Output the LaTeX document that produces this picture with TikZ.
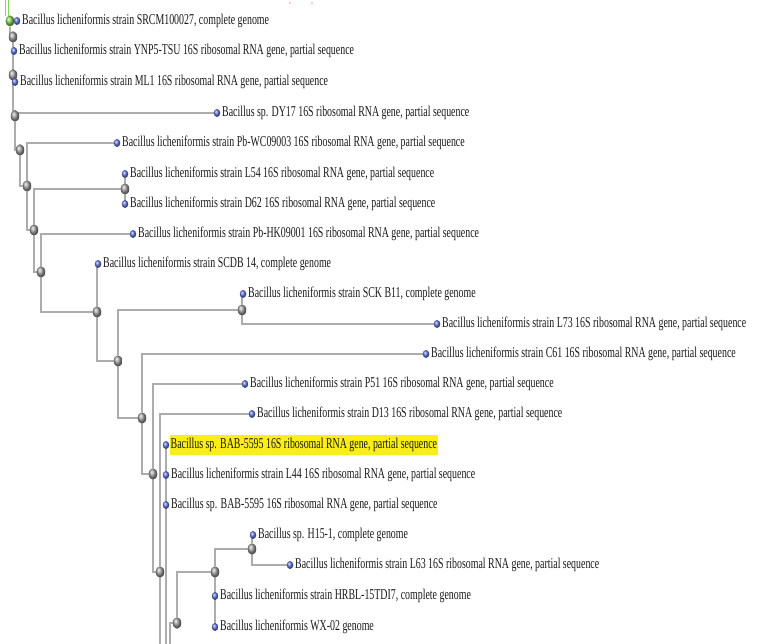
\documentclass[tikz,border=0pt]{standalone}
\usepackage{fontspec}
\usetikzlibrary{arrows, positioning, shapes.geometric, backgrounds}
\newfontfamily\leaffont[FakeStretch=0.66]{Liberation Serif}
\definecolor{branchgray}{RGB}{172,172,172}
\definecolor{hlyellow}{RGB}{250,238,24}
\definecolor{leafblue}{RGB}{95,115,225}
\definecolor{rootgreen}{RGB}{125,205,70}

\tikzset{
  nodeball/.style={ellipse, minimum width=8.5pt, minimum height=11.5pt, inner sep=0pt, shading=ball, ball color=gray!75},
  leafball/.style={ellipse, minimum width=6.5pt, minimum height=8pt, inner sep=0pt, shading=ball, ball color=leafblue},
  rootball/.style={ellipse, minimum width=9pt, minimum height=11pt, inner sep=0pt, shading=ball, ball color=rootgreen},
  leaftext/.style={inner xsep=1.5pt, inner ysep=2pt, font=\leaffont\fontsize{15}{17}\selectfont, text=black!90},
  hilite/.style={leaftext, fill=hlyellow, inner ysep=3.5pt, inner xsep=1pt},
  rootline/.style={draw=rootgreen!90, line width=1pt, double=white, double distance=2.4pt}
}

\begin{document}
\begin{tikzpicture}[x=1pt, y=-1pt,
  every edge/.style={draw=branchgray, line width=1.4pt, to path={|- (\tikztotarget)}}]

  \useasboundingbox (0,0) rectangle (768,644);

  % root and backbone
  \node[rootball] (r) at (10,21) {};
  \node[nodeball] (n1) at (13,37) {};
  \node[nodeball] (n2) at (13,75) {};
  \node[nodeball] (n3) at (15,116) {};
  \node[nodeball] (n4) at (20,150) {};
  \node[nodeball] (n5) at (27,186) {};
  \node[nodeball] (n6) at (34,230) {};
  \node[nodeball] (n7) at (41,272) {};
  \node[nodeball] (n8) at (97,312) {};
  \node[nodeball] (n9) at (118,361) {};
  \node[nodeball] (n10) at (142,418) {};
  \node[nodeball] (n11) at (153,474) {};
  \node[nodeball] (n12) at (160,572) {};
  \node[nodeball] (na) at (125,189) {};
  \node[nodeball] (nb) at (242,310) {};
  \node[nodeball] (nc) at (252,549) {};
  \node[nodeball] (nd) at (215,572) {};
  \node[nodeball] (ne) at (177,623) {};

  \coordinate (rtop) at (7,0);
  \coordinate (rbase) at (7,16);
  \coordinate (b1) at (160,660);
  \coordinate (b2) at (166,660);
  \coordinate (b3) at (170,660);

  % leaves
  \node[leafball] (l1) at (17,21) {};
  \node[leafball] (l2) at (14,51) {};
  \node[leafball] (l3) at (15,82) {};
  \node[leafball] (l4) at (217,113) {};
  \node[leafball] (l5) at (117,143) {};
  \node[leafball] (l6) at (125,174) {};
  \node[leafball] (l7) at (125,204) {};
  \node[leafball] (l8) at (133,234) {};
  \node[leafball] (l9) at (98,264) {};
  \node[leafball] (l10) at (243,294) {};
  \node[leafball] (l11) at (437,324) {};
  \node[leafball] (l12) at (426,354) {};
  \node[leafball] (l13) at (245,384) {};
  \node[leafball] (l14) at (252,414) {};
  \node[leafball] (l15) at (166,445) {};
  \node[leafball] (l16) at (166,475) {};
  \node[leafball] (l17) at (166,505) {};
  \node[leafball] (l18) at (253,535) {};
  \node[leafball] (l19) at (290,565) {};
  \node[leafball] (l20) at (215,596) {};
  \node[leafball] (l21) at (215,627) {};

  \node[leaftext, right=0pt of l1] (t1) {Bacillus licheniformis strain SRCM100027, complete genome};
  \node[leaftext, right=0pt of l2] (t2) {Bacillus licheniformis strain YNP5-TSU 16S ribosomal RNA gene, partial sequence};
  \node[leaftext, right=0pt of l3] (t3) {Bacillus licheniformis strain ML1 16S ribosomal RNA gene, partial sequence};
  \node[leaftext, right=0pt of l4] (t4) {Bacillus sp. DY17 16S ribosomal RNA gene, partial sequence};
  \node[leaftext, right=0pt of l5] (t5) {Bacillus licheniformis strain Pb-WC09003 16S ribosomal RNA gene, partial sequence};
  \node[leaftext, right=0pt of l6] (t6) {Bacillus licheniformis strain L54 16S ribosomal RNA gene, partial sequence};
  \node[leaftext, right=0pt of l7] (t7) {Bacillus licheniformis strain D62 16S ribosomal RNA gene, partial sequence};
  \node[leaftext, right=0pt of l8] (t8) {Bacillus licheniformis strain Pb-HK09001 16S ribosomal RNA gene, partial sequence};
  \node[leaftext, right=0pt of l9] (t9) {Bacillus licheniformis strain SCDB 14, complete genome};
  \node[leaftext, right=0pt of l10] (t10) {Bacillus licheniformis strain SCK B11, complete genome};
  \node[leaftext, right=0pt of l11] (t11) {Bacillus licheniformis strain L73 16S ribosomal RNA gene, partial sequence};
  \node[leaftext, right=0pt of l12] (t12) {Bacillus licheniformis strain C61 16S ribosomal RNA gene, partial sequence};
  \node[leaftext, right=0pt of l13] (t13) {Bacillus licheniformis strain P51 16S ribosomal RNA gene, partial sequence};
  \node[leaftext, right=0pt of l14] (t14) {Bacillus licheniformis strain D13 16S ribosomal RNA gene, partial sequence};
  \node[hilite, right=0pt of l15] (t15) {Bacillus sp. BAB-5595 16S ribosomal RNA gene, partial sequence};
  \node[leaftext, right=0pt of l16] (t16) {Bacillus licheniformis strain L44 16S ribosomal RNA gene, partial sequence};
  \node[leaftext, right=0pt of l17] (t17) {Bacillus sp. BAB-5595 16S ribosomal RNA gene, partial sequence};
  \node[leaftext, right=0pt of l18] (t18) {Bacillus sp. H15-1, complete genome};
  \node[leaftext, right=0pt of l19] (t19) {Bacillus licheniformis strain L63 16S ribosomal RNA gene, partial sequence};
  \node[leaftext, right=0pt of l20] (t20) {Bacillus licheniformis strain HRBL-15TDI7, complete genome};
  \node[leaftext, right=0pt of l21] (t21) {Bacillus licheniformis WX-02 genome};

  \fill[red!30] (290,3) circle (1.2);
  \fill[red!30] (312,3) circle (1.2);

  \begin{scope}[on background layer]
    \draw[rootline] (rbase) -- (rtop);
    \path (r) edge (l1) edge (n1)
          (n1) edge (l2) edge (n2)
          (n2) edge (l3) edge (n3)
          (n3) edge (l4) edge (n4)
          (n4) edge (n5)
          (n5) edge (l5) edge (n6)
          (n6) edge (na) edge (n7)
          (na) edge (l6) edge (l7)
          (n7) edge (l8) edge (n8)
          (n8) edge (l9) edge (n9)
          (n9) edge (nb) edge (n10)
          (nb) edge (l10) edge (l11)
          (n10) edge (l12) edge (n11)
          (n11) edge (l13) edge (n12)
          (n12) edge (l14) edge (b1)
          (b2) edge (l15) edge (l16) edge (l17)
          (b3) edge (ne)
          (ne) edge (nd)
          (nd) edge (nc) edge (l20) edge (l21)
          (nc) edge (l18) edge (l19);
  \end{scope}

\end{tikzpicture}
\end{document}
